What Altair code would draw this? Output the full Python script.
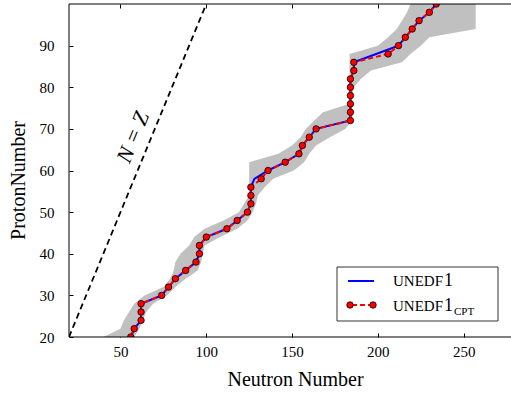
import altair as alt
import pandas as pd

# ---------------- data ----------------
Z_vals = [20, 22, 24, 26, 28, 30, 32, 34, 36, 38, 40, 42, 44, 46, 48, 50, 52, 54, 56, 58,
          60, 62, 64, 66, 68, 70, 72, 74, 76, 78, 80, 82, 84, 86, 88, 90, 92, 94, 96, 98, 100]
N_cpt = [56, 58, 62, 62, 62, 74, 78, 82, 88, 94, 96, 96, 100, 112, 118, 124, 126, 126, 126, 132,
         136, 146, 154, 156, 160, 164, 184, 184, 184, 184, 184, 184, 186, 186, 206, 212, 216, 220, 224, 230, 234]
N_unedf1 = [56, 58, 62, 62, 62, 74, 78, 82, 88, 94, 96, 96, 100, 112, 118, 124, 126, 126, 126, 128,
            136, 146, 154, 156, 160, 164, 184, 184, 184, 184, 184, 184, 186, 186, 199, 212, 216, 220, 224, 230, 234]
band_min = [40, 50, 52, 55, 58, 64, 75, 79, 81, 82, 85, 90, 93, 99, 110, 119, 122, 125, 125, 125,
            125, 125, 142, 150, 155, 158, 163, 168, 183, 183.5, 183.5, 183.5, 183.5, 183.5, 183.5, 200, 206, 211, 214, 217, 219]
band_max = [58, 61, 63, 65, 69, 77, 82, 88, 95, 97, 98, 99, 108, 118, 124, 127, 129, 130, 134, 139,
            151, 157, 160, 164, 172, 181, 185, 185, 185, 185, 186, 190, 196, 214, 219, 225, 230, 257, 257, 257, 257]
nz_line = [20, 100]
x_ticks = [50, 100, 150, 200, 250]
y_ticks = [20, 30, 40, 50, 60, 70, 80, 90]

cpt_df = pd.DataFrame({"N": N_cpt, "Z": Z_vals})
unedf_df = pd.DataFrame({"N": N_unedf1, "Z": Z_vals})
band_df = pd.DataFrame({"Z": Z_vals, "Nmin": band_min, "Nmax": band_max})
nz_df = pd.DataFrame({"N": nz_line, "Z": nz_line})
one = pd.DataFrame({"a": [0]})

# ---------------- layout ----------------
W, H = 441, 333
FONT = "Liberation Serif"
xs = alt.Scale(domain=[20, 277], nice=False, zero=False)
ys = alt.Scale(domain=[20, 100], nice=False, zero=False)

x_bottom = alt.Axis(values=x_ticks, domain=False, grid=False, tickSize=4, offset=-4,
                    labelPadding=7, title="Neutron Number", titlePadding=10, titleX=226)
x_top = alt.Axis(values=x_ticks, orient="top", domain=False, grid=False, tickSize=4,
                 offset=-4, labels=False, title=None)
y_left = alt.Axis(values=y_ticks, domain=False, grid=False, tickSize=4, offset=-4,
                  labelPadding=15, title="ProtonNumber", titlePadding=11, titleY=176)

band = alt.Chart(band_df).mark_area(orient="horizontal", color="#c0c0c0", opacity=1, clip=True).encode(
    y=alt.Y("Z:Q", scale=ys, axis=y_left),
    x=alt.X("Nmin:Q", scale=xs, axis=x_bottom),
    x2="Nmax:Q",
)

nz = alt.Chart(nz_df).mark_line(color="black", strokeWidth=1.8, strokeDash=[6, 4], clip=True).encode(
    x=alt.X("N:Q", scale=xs, axis=x_top),
    y=alt.Y("Z:Q", scale=ys, axis=None),
)

nz_text = alt.Chart(pd.DataFrame({"N": [57.3], "Z": [68.0], "t": ["N = Z"]})).mark_text(
    font=FONT, fontSize=22, fontStyle="italic", angle=292.4, color="black").encode(
    x=alt.X("N:Q", scale=xs, axis=None),
    y=alt.Y("Z:Q", scale=ys, axis=None),
    text="t:N",
)

blue = alt.Chart(unedf_df).mark_line(color="#0000ff", strokeWidth=2, clip=True).encode(
    x=alt.X("N:Q", scale=xs, axis=None),
    y=alt.Y("Z:Q", scale=ys, axis=None),
    order="Z:Q",
)
red = alt.Chart(cpt_df).mark_line(color="#ff0000", strokeWidth=2, strokeDash=[5, 3], clip=True).encode(
    x=alt.X("N:Q", scale=xs, axis=None),
    y=alt.Y("Z:Q", scale=ys, axis=None),
    order="Z:Q",
)
pts = alt.Chart(cpt_df).mark_circle(color="#ff0000", stroke="black", strokeWidth=0.8, size=42,
                                    opacity=1, clip=True).encode(
    x=alt.X("N:Q", scale=xs, axis=None),
    y=alt.Y("Z:Q", scale=ys, axis=None),
)

# frame (left, top, bottom)
frame_left = alt.Chart(one).mark_rule(color="black", strokeWidth=1).encode(
    x=alt.value(0), y=alt.value(0), y2=alt.value(H))
frame_top = alt.Chart(one).mark_rule(color="black", strokeWidth=1).encode(
    x=alt.value(0), x2=alt.value(W + 2), y=alt.value(0))
frame_bottom = alt.Chart(one).mark_rule(color="black", strokeWidth=1).encode(
    x=alt.value(0), x2=alt.value(W + 2), y=alt.value(H))

# legend
leg_box = alt.Chart(one).mark_rect(fill="white", stroke="black", strokeWidth=0.8).encode(
    x=alt.value(268), x2=alt.value(429), y=alt.value(263), y2=alt.value(317))
leg_blue = alt.Chart(one).mark_rule(color="#0000ff", strokeWidth=2).encode(
    x=alt.value(279), x2=alt.value(305), y=alt.value(277))
leg_red = alt.Chart(one).mark_rule(color="#ff0000", strokeWidth=2, strokeDash=[5, 3]).encode(
    x=alt.value(283), x2=alt.value(302), y=alt.value(301))
leg_c1 = alt.Chart(one).mark_circle(color="#ff0000", stroke="black", strokeWidth=0.8, size=42,
                                    opacity=1).encode(x=alt.value(281), y=alt.value(301))
leg_c2 = alt.Chart(one).mark_circle(color="#ff0000", stroke="black", strokeWidth=0.8, size=42,
                                    opacity=1).encode(x=alt.value(304), y=alt.value(301))


def txt(s, x, y, size):
    return alt.Chart(one).mark_text(font=FONT, fontSize=size, align="left", baseline="alphabetic",
                                    color="black").encode(x=alt.value(x), y=alt.value(y),
                                                          text=alt.value(s))


leg_t1a = txt("UNEDF", 324, 282, 15)
leg_t1b = txt("1", 375, 282, 18)
leg_t2a = txt("UNEDF", 324, 307, 15)
leg_t2b = txt("1", 375, 307, 18)
leg_t2c = txt("CPT", 385, 311, 11)

chart = alt.layer(
    band, nz, nz_text, blue, red, pts,
    frame_left, frame_top, frame_bottom,
    leg_box, leg_blue, leg_red, leg_c1, leg_c2,
    leg_t1a, leg_t1b, leg_t2a, leg_t2b, leg_t2c,
).resolve_axis(x="independent", y="independent").properties(
    width=W, height=H,
    autosize=alt.AutoSizeParams(type="none"),
    padding={"left": 69, "top": 4, "right": 1, "bottom": 58},
).configure_view(stroke=None).configure_axis(
    labelFont=FONT, titleFont=FONT, labelFontSize=15, titleFontSize=20,
    labelColor="black", titleColor="black", tickColor="black", titleFontWeight="normal",
    tickWidth=1,
)

chart.save("out.html", embed_options={"renderer": "svg", "actions": False})
